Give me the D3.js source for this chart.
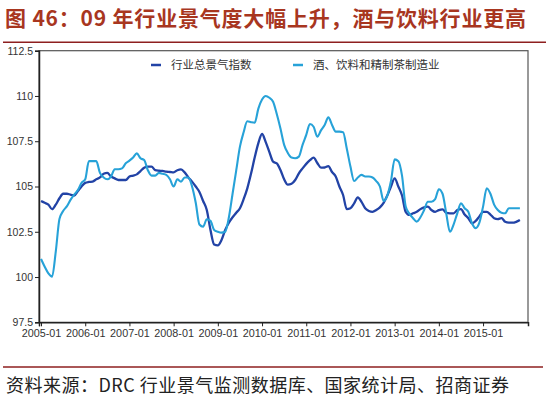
<!DOCTYPE html>
<html>
<head>
<meta charset="utf-8">
<script src="https://cdn.jsdelivr.net/npm/d3@7"></script>
<style>
    html, body { margin: 0; padding: 0; background: #fff; }
    svg { display: block; }
    .cjk { font-family: "Noto Sans CJK SC", sans-serif; }
    .num { font-family: "Liberation Sans", Arial, sans-serif; }
</style>
</head>
<body>
<div id="chartContainer"></div>
<script>
// months are counted from 2005-01 (index 0)
const startYear = 2005;
const tickLabels = ["2005-01", "2006-01", "2007-01", "2008-01", "2009-01", "2010-01",
    "2011-01", "2012-01", "2013-01", "2014-01", "2015-01"];
const yTicks = [97.5, 100, 102.5, 105, 107.5, 110, 112.5];
const seriesNames = ["行业总景气指数", "酒、饮料和精制茶制造业"];

// 行业总景气指数, 2005-01 .. 2015-11
const totalIndex = [
    104.2, 104.1, 104.0, 103.75, 104.0, 104.35, 104.6, 104.6, 104.55, 104.5, 104.75, 105.0,
    105.2, 105.25, 105.27, 105.4, 105.5, 105.7, 105.75, 105.55, 105.45, 105.36, 105.36, 105.36,
    105.55, 105.6, 105.67, 105.85, 106.04, 106.1, 106.1, 105.9, 105.87, 105.86, 105.82, 105.8,
    105.78, 105.9, 105.95, 105.78, 105.5, 105.27, 105.0, 104.7, 104.2, 103.7, 102.6, 101.8,
    101.75, 102.05, 102.6, 103.0, 103.3, 103.55, 103.8, 104.3, 104.9, 105.7, 106.6, 107.4,
    107.9, 107.45, 106.9, 106.37, 106.28, 105.91, 105.4, 105.1, 105.15, 105.36, 105.73, 106.0,
    106.25, 106.45, 106.6, 106.3, 106.04, 106.05, 106.13, 105.8, 105.55, 105.0, 104.53, 103.75,
    103.8, 104.07, 104.4, 104.15, 103.8, 103.65, 103.6, 103.7, 103.85, 104.1, 104.5, 105.0,
    105.45, 105.0, 104.5, 103.6, 103.43, 103.52, 103.6, 103.75, 103.85, 103.89, 103.7, 103.6,
    103.7, 103.74, 103.55, 103.52, 103.52, 103.7, 103.75, 103.45, 103.25, 102.97, 103.1, 103.35,
    103.6, 103.6, 103.45, 103.25, 103.2, 103.25, 103.05, 103.0, 103.0, 103.05, 103.15
];

// 酒、饮料和精制茶制造业, 2005-01 .. 2015-11
const beverageIndex = [
    101.0, 100.57, 100.2, 100.02, 101.4, 103.2, 103.65, 103.9, 104.26, 104.55, 104.8, 105.2,
    105.4, 106.4, 106.4, 106.4, 105.75, 105.5, 105.4, 105.55, 105.95, 105.95, 106.0, 106.28,
    106.43, 106.6, 106.83, 106.56, 106.46, 105.9, 105.6, 105.6, 105.75, 105.7, 105.64, 105.4,
    105.0, 105.4, 105.27, 105.5, 105.5, 105.0, 104.1, 102.9, 102.78, 103.19, 103.1, 102.6,
    102.5, 102.45, 102.5, 103.3, 104.6, 105.9, 107.2, 108.0, 108.6, 108.55, 108.52, 109.3,
    109.8, 110.0, 109.9, 109.68, 109.0, 108.2, 107.3, 106.85, 106.6, 106.56, 106.65, 107.3,
    107.85, 108.45, 108.3, 107.75, 108.1, 108.4, 108.82, 108.4, 108.03, 108.03, 108.0, 107.1,
    106.1, 105.3, 105.5, 105.64, 105.55, 105.55, 105.5, 105.3, 105.0, 104.2, 104.5, 105.3,
    106.5, 106.4, 105.6, 103.9, 103.5, 103.25, 103.06, 103.3, 103.7, 104.16, 104.16, 104.3,
    104.85, 104.6, 103.52, 102.5, 102.9, 103.52, 104.07, 103.8, 103.6, 102.97, 102.7, 103.0,
    103.89, 104.9, 104.6, 104.0, 103.7, 103.55, 103.52, 103.8, 103.8, 103.8, 103.8
];

function monthIndex(label) {
    const [y, m] = label.split("-").map(Number);
    return (y - startYear) * 12 + (m - 1);
}

function chart() {
    const width = 550;
    const height = 396;
    const plot = {left: 39, right: 528, top: 50.7, bottom: 322.3};
    const colors = ["#2243a6", "#27a2d8"];

    const svg = d3.select("#chartContainer")
        .append("svg")
        .attr("width", width)
        .attr("height", height);

    // title + rule
    svg.append("text")
        .attr("class", "cjk")
        .attr("x", 5)
        .attr("y", 26)
        .attr("textLength", 521)
        .attr("lengthAdjust", "spacing")
        .style("font-size", "21px")
        .style("font-weight", "bold")
        .style("fill", "#a8361f")
        .text("图 46：09 年行业景气度大幅上升，酒与饮料行业更高");

    svg.append("line")
        .attr("x1", 3).attr("x2", 546)
        .attr("y1", 42.3).attr("y2", 42.3)
        .style("stroke", "#8e1f1f")
        .style("stroke-width", 1.5);

    var x = d3.scaleLinear()
        .domain([-0.55, 132.2])
        .range([plot.left, plot.right]);

    var y = d3.scaleLinear()
        .domain([97.5, 112.5])
        .range([plot.bottom, plot.top]);

    // frame
    svg.append("rect")
        .attr("x", plot.left)
        .attr("y", plot.top)
        .attr("width", plot.right - plot.left)
        .attr("height", plot.bottom - plot.top)
        .style("fill", "none")
        .style("stroke", "#555")
        .style("stroke-width", 1.2);

    // y axis
    var yAxis = svg.append("g")
        .attr("transform", `translate(${plot.left},0)`)
        .call(d3.axisLeft(y).tickValues(yTicks).tickSize(4).tickPadding(2)
            .tickFormat(d => String(d)));
    yAxis.select(".domain").style("stroke", "#222").style("stroke-width", 1.5);
    yAxis.selectAll(".tick line").style("stroke", "#222");
    yAxis.selectAll("text")
        .attr("class", "num")
        .style("font-size", "10.5px")
        .style("fill", "#333");

    // x axis
    var xAxis = svg.append("g")
        .attr("transform", `translate(0,${plot.bottom})`)
        .call(d3.axisBottom(x).tickValues(tickLabels.map(monthIndex)).tickSize(4).tickPadding(3)
            .tickFormat((d, i) => tickLabels[i]));
    xAxis.select(".domain").style("stroke", "#222").style("stroke-width", 1.5);
    xAxis.selectAll(".tick line").style("stroke", "#222");
    xAxis.selectAll("text")
        .attr("class", "num")
        .style("font-size", "10.8px")
        .style("fill", "#333");
    xAxis.append("line")
        .attr("x1", plot.left + 0.5).attr("x2", plot.left + 0.5)
        .attr("y1", 0).attr("y2", 4)
        .style("stroke", "#222");

    // lines
    const series = [totalIndex, beverageIndex];
    var line = d3.line()
        .x((d, i) => x(i))
        .y(d => y(d))
        .curve(d3.curveMonotoneX);

    series.forEach(function(values, k) {
        svg.append("path")
            .datum(values)
            .attr("d", line)
            .style("fill", "none")
            .style("stroke", colors[k])
            .style("stroke-width", k === 0 ? 2.3 : 2.1)
            .style("stroke-linejoin", "round");
    });

    // legend
    const legendX = [151, 293];
    var legend = svg.selectAll("g.legend")
        .data(seriesNames)
        .enter()
        .append("g")
        .attr("class", "legend")
        .attr("transform", (d, i) => `translate(${legendX[i]},65)`);

    legend.append("line")
        .attr("x1", 0).attr("x2", 10)
        .attr("y1", 0).attr("y2", 0)
        .style("stroke", (d, i) => colors[i])
        .style("stroke-width", 2.5);

    legend.append("text")
        .attr("class", "cjk")
        .attr("x", 20)
        .attr("dy", "0.36em")
        .style("font-size", "11.5px")
        .style("fill", "#333")
        .text(d => d);

    // source line + footer
    svg.append("line")
        .attr("x1", 3).attr("x2", 543)
        .attr("y1", 367).attr("y2", 367)
        .style("stroke", "#8e1f1f")
        .style("stroke-width", 1.5);

    svg.append("text")
        .attr("class", "cjk")
        .attr("x", 6)
        .attr("y", 392)
        .attr("textLength", 503)
        .attr("lengthAdjust", "spacing")
        .style("font-size", "18px")
        .style("fill", "#222")
        .text("资料来源：DRC 行业景气监测数据库、国家统计局、招商证券");
}

chart();
</script>
</body>
</html>
